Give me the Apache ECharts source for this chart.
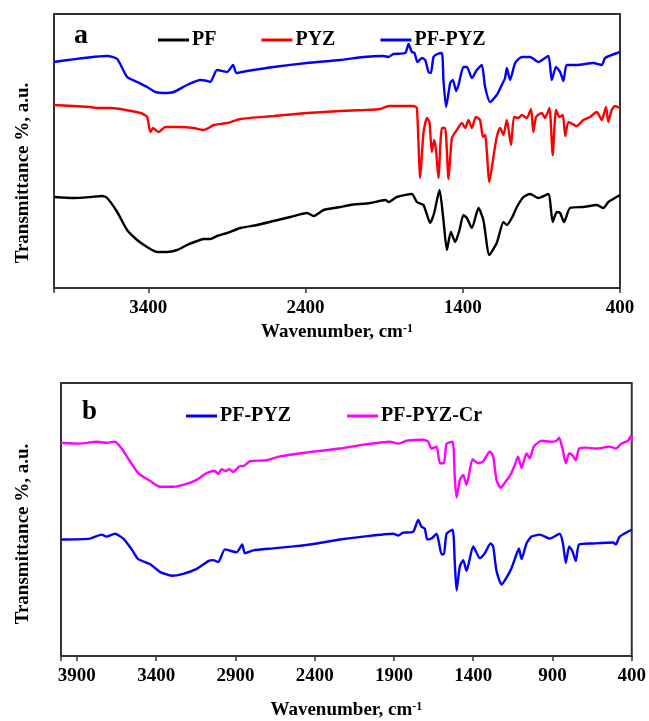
<!DOCTYPE html>
<html>
<head>
<meta charset="utf-8">
<script src="https://cdn.jsdelivr.net/npm/echarts@6/dist/echarts.min.js"></script>
<style>
  html, body { margin: 0; padding: 0; background: #fff; }
  #chart { width: 649px; height: 721px; }
</style>
</head>
<body>
<div id="chart"></div>
<script>
// FTIR spectra: [wavenumber (cm-1), transmittance (arbitrary, offset)]
// Panel a
const PF = [
  [4000,91],[3874,90],[3768,91],[3694,92],[3662,90],[3598,76],[3535,58],[3471,48],[3408,41],
  [3344,36],[3281,36],[3217,38],[3154,43],[3090,47],[3048,49],[3005,49],[2963,52],[2899,55],
  [2815,60],[2709,63],[2603,67],[2497,71],[2391,75],[2349,72],[2285,78],[2179,81],[2116,83],
  [1989,85],[1893,88],[1872,86],[1819,91],[1724,94],[1692,86],[1650,83],[1607,65],[1582,75],
  [1548,98],[1523,68],[1501,38],[1476,56],[1448,46],[1421,58],[1396,73],[1374,70],[1342,60],
  [1300,80],[1269,68],[1231,33],[1184,45],[1141,66],[1120,63],[1088,70],[1056,81],[1014,91],
  [972,94],[919,90],[856,94],[828,66],[802,76],[781,75],[756,66],[718,80],[633,81],[548,83],
  [506,80],[474,86],[400,93]
];
const PYZ = [
  [4000,183],[3768,181],[3725,180],[3641,180],[3450,175],[3408,171],[3387,156],[3370,160],
  [3355,158],[3334,156],[3291,161],[3196,161],[3112,160],[3048,158],[3016,160],[2984,163],
  [2899,165],[2815,169],[2603,172],[2391,175],[2179,177],[2031,178],[1925,179],[1872,182],
  [1713,182],[1692,180],[1671,110],[1650,155],[1628,170],[1612,166],[1597,136],[1582,148],
  [1569,136],[1555,110],[1533,160],[1512,160],[1491,109],[1469,150],[1438,158],[1406,165],
  [1385,160],[1364,168],[1342,160],[1317,171],[1290,168],[1272,151],[1258,153],[1231,106],
  [1205,131],[1184,151],[1162,160],[1141,153],[1120,168],[1093,143],[1074,171],[1046,170],
  [1025,173],[993,170],[966,179],[951,156],[934,171],[898,175],[877,170],[849,180],[828,133],
  [807,178],[786,171],[764,173],[748,152],[728,166],[675,162],[633,168],[591,171],[548,176],
  [516,168],[489,181],[474,166],[453,178],[432,182],[400,180]
];
const PF_PYZ_A = [
  [4000,226],[3662,232],[3598,229],[3535,211],[3471,206],[3408,201],[3355,196],[3302,195],
  [3239,196],[3154,203],[3069,208],[3026,207],[3005,206],[2963,218],[2899,216],[2861,223],
  [2840,215],[2772,217],[2603,221],[2391,225],[2179,228],[2031,231],[1904,232],[1872,231],
  [1841,234],[1766,235],[1745,244],[1724,236],[1707,235],[1688,226],[1660,230],[1639,228],
  [1618,216],[1603,215],[1586,231],[1561,234],[1533,235],[1523,208],[1506,181],[1480,205],
  [1463,208],[1442,197],[1427,203],[1396,221],[1374,221],[1342,210],[1311,218],[1279,223],
  [1258,201],[1226,186],[1184,193],[1152,203],[1131,210],[1120,220],[1099,208],[1067,225],
  [1025,231],[972,231],[919,226],[856,232],[834,208],[807,221],[781,216],[760,207],[739,223],
  [675,223],[570,225],[516,223],[495,230],[400,236]
];
// Panel b
const PF_PYZ_B = [
  [4000,119],[3817,120],[3743,124],[3712,122],[3660,125],[3607,120],[3554,109],[3513,99],
  [3439,94],[3376,86],[3302,82],[3229,84],[3144,89],[3071,97],[3040,98],[3008,96],[2966,109],
  [2892,106],[2857,114],[2840,105],[2788,108],[2661,110],[2535,112],[2388,115],[2241,119],
  [2094,122],[1905,125],[1873,123],[1842,126],[1779,127],[1747,139],[1726,132],[1705,130],
  [1690,119],[1663,120],[1631,125],[1615,115],[1600,104],[1585,104],[1568,125],[1530,129],
  [1516,95],[1505,67],[1484,92],[1463,98],[1442,87],[1400,112],[1358,100],[1327,105],
  [1291,115],[1274,112],[1253,87],[1221,73],[1190,80],[1158,90],[1127,104],[1112,110],
  [1095,99],[1064,115],[1032,122],[980,124],[917,120],[854,125],[833,114],[816,95],[795,112],
  [774,107],[753,97],[732,114],[644,115],[518,116],[501,114],[476,122],[400,129]
];
const PF_PYZ_CR = [
  [4000,218],[3880,217],[3775,219],[3712,218],[3660,219],[3617,212],[3565,199],[3513,187],
  [3439,179],[3376,173],[3292,173],[3207,176],[3144,180],[3081,187],[3029,189],[3008,186],
  [2987,191],[2960,189],[2939,191],[2914,188],[2871,194],[2851,194],[2808,199],[2703,200],
  [2619,204],[2451,208],[2241,212],[2094,216],[1926,219],[1873,217],[1820,220],[1716,221],
  [1684,219],[1663,212],[1631,214],[1610,197],[1585,197],[1568,217],[1530,219],[1516,182],
  [1505,162],[1484,180],[1463,185],[1442,175],[1404,201],[1369,197],[1337,199],[1295,209],
  [1274,204],[1253,180],[1228,172],[1201,177],[1169,184],[1138,195],[1117,204],[1095,192],
  [1064,207],[1043,202],[1018,214],[969,220],[906,219],[875,220],[858,223],[837,212],[816,197],
  [795,207],[774,205],[753,200],[732,212],[685,213],[622,212],[539,214],[501,212],[465,217],
  [423,220],[406,225],[400,219]
];

const LEGEND_A = ['PF', 'PYZ', 'PF-PYZ'];
const LEGEND_B = ['PF-PYZ', 'PF-PYZ-Cr'];
const TICK_STEP_A = 1000;
const TICK_STEP_B = 500;

const SERIF = '"Liberation Serif", "Times New Roman", serif';
const FRAME = '#333';

function xAxisFor(gridIndex, step, gap) {
  return {
    type: 'value', gridIndex: gridIndex, min: 400, max: 4000, interval: step, inverse: true,
    name: '{n|Wavenumber, cm}{s|-1}', nameLocation: 'middle', nameGap: gap,
    nameTextStyle: {
      rich: {
        n: { fontFamily: SERIF, fontWeight: 'bold', fontSize: 19, color: '#000' },
        s: { fontFamily: SERIF, fontWeight: 'bold', fontSize: 12, color: '#000', verticalAlign: 'top' }
      }
    },
    axisLine: { show: true, lineStyle: { color: FRAME, width: 2 } },
    axisTick: { show: true, length: 5, lineStyle: { color: FRAME, width: 1.5 } },
    axisLabel: {
      fontFamily: SERIF, fontWeight: 'bold', fontSize: 19, color: '#000', margin: 11,
      formatter: v => (v === 4000 ? '' : String(v))
    },
    splitLine: { show: false }
  };
}
function yAxisFor(gridIndex, max) {
  return {
    type: 'value', gridIndex: gridIndex, min: 0, max: max,
    axisLine: { show: false }, axisTick: { show: false }, axisLabel: { show: false },
    splitLine: { show: false }
  };
}
function line(name, data, color, axis) {
  return {
    type: 'line', name: name, data: data, xAxisIndex: axis, yAxisIndex: axis,
    showSymbol: false, symbol: 'none', smooth: 0.2,
    lineStyle: { color: color, width: 2.4 }, itemStyle: { color: color }
  };
}
const legendText = { fontFamily: SERIF, fontWeight: 'bold', fontSize: 20, color: '#000', padding: [0, 0, 0, -2] };

const chart = echarts.init(document.getElementById('chart'));
chart.setOption({
  animation: false,
  backgroundColor: '#fff',
  grid: [
    { left: 54, top: 14, width: 566, height: 274, show: true, borderColor: FRAME, borderWidth: 2 },
    { left: 61, top: 383, width: 571, height: 279, show: true, borderColor: FRAME, borderWidth: 2 }
  ],
  xAxis: [xAxisFor(0, TICK_STEP_A, 35), xAxisFor(1, TICK_STEP_B, 45)],
  yAxis: [yAxisFor(0, 274), yAxisFor(1, 279)],
  legend: [
    {
      data: LEGEND_A, left: 153, top: 25, icon: 'rect', itemWidth: 31, itemHeight: 3, itemGap: 45,
      selectedMode: false, textStyle: legendText
    },
    {
      data: LEGEND_B, left: 181, top: 401, icon: 'rect', itemWidth: 31, itemHeight: 3, itemGap: 56,
      selectedMode: false, textStyle: legendText
    }
  ],
  graphic: [
    { type: 'text', left: 74, top: 22, style: { text: 'a', font: 'bold 28px ' + SERIF, fill: '#000' } },
    { type: 'text', left: 82, top: 399, style: { text: 'b', font: 'bold 27px ' + SERIF, fill: '#000' } },
    { type: 'text', x: 23, y: 173, rotation: Math.PI / 2,
      style: { text: 'Transmittance %, a.u.', font: 'bold 19px ' + SERIF, fill: '#000', align: 'center', verticalAlign: 'middle' } },
    { type: 'text', x: 23, y: 534, rotation: Math.PI / 2,
      style: { text: 'Transmittance %, a.u.', font: 'bold 19px ' + SERIF, fill: '#000', align: 'center', verticalAlign: 'middle' } }
  ],
  series: [
    line('PF', PF, '#000000', 0),
    line('PYZ', PYZ, '#ff0000', 0),
    line('PF-PYZ', PF_PYZ_A, '#0000ff', 0),
    line('PF-PYZ', PF_PYZ_B, '#0000ff', 1),
    line('PF-PYZ-Cr', PF_PYZ_CR, '#ff00ff', 1)
  ]
});
</script>
</body>
</html>
